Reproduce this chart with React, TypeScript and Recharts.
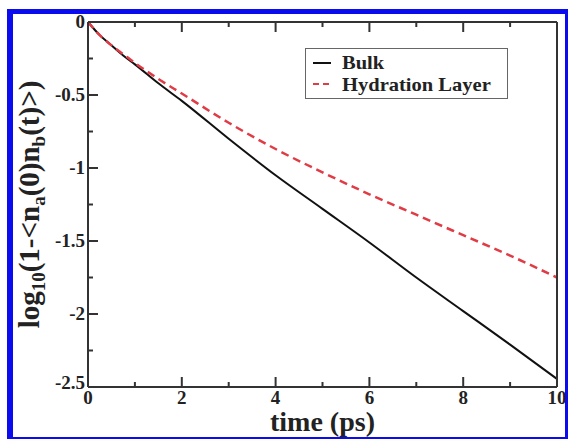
import React from "react";
import {
  LineChart,
  Line,
  XAxis,
  YAxis,
  Legend,
} from "recharts";

const times = [0, 0.25, 0.5, 0.75, 1, 1.5, 2, 3, 4, 5, 6, 7, 8, 9, 10];
const bulk = [0, -0.09, -0.16, -0.23, -0.29, -0.42, -0.54, -0.8, -1.05, -1.28, -1.51, -1.75, -1.98, -2.21, -2.445];
const hydration = [0, -0.09, -0.16, -0.22, -0.28, -0.39, -0.49, -0.69, -0.87, -1.03, -1.18, -1.32, -1.46, -1.6, -1.75];

const xTicks = [0, 1, 2, 3, 4, 5, 6, 7, 8, 9, 10];
const yTicks = [0, -0.25, -0.5, -0.75, -1, -1.25, -1.5, -1.75, -2, -2.25, -2.5];

const data = times.map((t, i) => ({ t, bulk: bulk[i], hydration: hydration[i] }));

const FONT = "Liberation Serif, Times New Roman, Times, serif";
const FRAME = "#333";
const RED = "#e03c46";
const BLUE = "#0b0bf0";

const isMajorX = (v: number) => v % 2 === 0;
const isMajorY = (v: number) => Math.abs(v * 2 - Math.round(v * 2)) < 1e-6;

const BottomTick = (props: any) => {
  const { x, y, payload } = props;
  const v = payload.value;
  const len = isMajorX(v) ? 10 : 5;
  return (
    <g>
      <line x1={x} x2={x} y1={y} y2={y - len} stroke={FRAME} strokeWidth={2} />
      {isMajorX(v) && (
        <text x={x} y={y + 17} textAnchor="middle" fontFamily={FONT} fontWeight="bold" fontSize={19} fill="#222">
          {v}
        </text>
      )}
    </g>
  );
};

const TopTick = (props: any) => {
  const { x, y, payload } = props;
  const len = isMajorX(payload.value) ? 10 : 5;
  return <line x1={x} x2={x} y1={y} y2={y + len} stroke={FRAME} strokeWidth={2} />;
};

const LeftTick = (props: any) => {
  const { x, y, payload } = props;
  const v = payload.value;
  const major = isMajorY(v);
  return (
    <g>
      <line x1={x} x2={x + (major ? 10 : 5)} y1={y} y2={y} stroke={FRAME} strokeWidth={2} />
      {major && (
        <text x={x - 3} y={v === -2.5 ? y + 2 : y + 6} textAnchor="end" fontFamily={FONT} fontWeight="bold" fontSize={19} fill="#222">
          {v}
        </text>
      )}
    </g>
  );
};

const RightTick = (props: any) => {
  const { x, y, payload } = props;
  const len = isMajorY(payload.value) ? 10 : 5;
  return <line x1={x} x2={x - len} y1={y} y2={y} stroke={FRAME} strokeWidth={2} />;
};

const XTitle = (props: any) => {
  const { viewBox } = props;
  const cx = viewBox.x + viewBox.width / 2;
  return (
    <text x={cx} y={431} textAnchor="middle" fontFamily={FONT} fontWeight="bold" fontSize={28} fill="#222">
      time (ps)
    </text>
  );
};

const YTitle = (props: any) => {
  const { viewBox } = props;
  const cy = viewBox.y + viewBox.height / 2;
  const cx = 39;
  const sub = { fontSize: 19 };
  return (
    <text
      x={cx}
      y={cy}
      transform={`rotate(-90 ${cx} ${cy})`}
      textAnchor="middle"
      fontFamily={FONT}
      fontWeight="bold"
      fontSize={29}
      fill="#222"
    >
      log
      <tspan dy={6} {...sub}>10</tspan>
      <tspan dy={-6}>(1-&lt;n</tspan>
      <tspan dy={6} {...sub}>a</tspan>
      <tspan dy={-6}>(0)n</tspan>
      <tspan dy={6} {...sub}>b</tspan>
      <tspan dy={-6}>(t)&gt;)</tspan>
    </text>
  );
};

const LegendBox = () => {
  const row = { display: "flex", alignItems: "center", height: 21.5 } as const;
  const label = {
    fontFamily: FONT,
    fontWeight: "bold" as const,
    fontSize: 19,
    lineHeight: "19px",
    color: "#222",
    marginLeft: 11,
    transform: "scaleX(1.08)",
    transformOrigin: "left center",
  };
  return (
    <div style={{ border: "1px solid #666", width: 203, height: 51, padding: "3px 0 0 7px", boxSizing: "border-box", background: "#fff" }}>
      <div style={row}>
        <svg width={18} height={10}>
          <line x1={0} x2={18} y1={5} y2={5} stroke="#111" strokeWidth={2} />
        </svg>
        <span style={label}>Bulk</span>
      </div>
      <div style={row}>
        <svg width={18} height={10}>
          <line x1={0} x2={18} y1={5} y2={5} stroke={RED} strokeWidth={2} strokeDasharray="6 4" />
        </svg>
        <span style={label}>Hydration Layer</span>
      </div>
    </div>
  );
};

export default function App() {
  return (
    <div style={{ position: "absolute", left: 0, top: 0, width: 568, height: 439, background: "#fff", overflow: "hidden" }}>
      <LineChart
        width={568}
        height={439}
        data={data}
        margin={{ top: 20, right: 9, bottom: 22, left: 28 }}
        style={{ position: "absolute", left: 0, top: 0 }}
      >
        <XAxis
          dataKey="t"
          type="number"
          domain={[0, 10]}
          ticks={xTicks}
          interval={0}
          tickSize={0}
          tickMargin={0}
          tickLine={false}
          tick={<BottomTick />}
          axisLine={{ stroke: FRAME, strokeWidth: 2 }}
          height={30}
          label={<XTitle />}
        />
        <XAxis
          xAxisId="top"
          orientation="top"
          dataKey="t"
          type="number"
          domain={[0, 10]}
          ticks={xTicks}
          interval={0}
          tickSize={0}
          tickMargin={0}
          tickLine={false}
          tick={<TopTick />}
          axisLine={{ stroke: FRAME, strokeWidth: 2 }}
          height={2}
        />
        <YAxis
          type="number"
          domain={[-2.5, 0]}
          ticks={yTicks}
          interval={0}
          tickSize={0}
          tickMargin={0}
          tickLine={false}
          tick={<LeftTick />}
          axisLine={{ stroke: FRAME, strokeWidth: 2 }}
          width={60}
          label={<YTitle />}
        />
        <YAxis
          yAxisId="right"
          orientation="right"
          type="number"
          domain={[-2.5, 0]}
          ticks={yTicks}
          interval={0}
          tickSize={0}
          tickMargin={0}
          tickLine={false}
          tick={<RightTick />}
          axisLine={{ stroke: FRAME, strokeWidth: 2 }}
          width={2}
        />
        <Legend
          layout="vertical"
          align="center"
          verticalAlign="middle"
          content={<LegendBox />}
          wrapperStyle={{ left: 305, top: 48, width: 203, height: 51 }}
        />
        <Line
          type="monotone"
          dataKey="bulk"
          name="Bulk"
          stroke="#111"
          strokeWidth={2}
          dot={false}
          isAnimationActive={false}
        />
        <Line
          type="monotone"
          dataKey="hydration"
          name="Hydration Layer"
          stroke={RED}
          strokeWidth={2.5}
          strokeDasharray="8 5"
          dot={false}
          isAnimationActive={false}
        />
      </LineChart>
      <div
        style={{
          position: "absolute",
          left: 7,
          top: 9,
          width: 561,
          height: 430,
          boxSizing: "border-box",
          borderLeft: `6px solid ${BLUE}`,
          borderTop: `5px solid ${BLUE}`,
          borderRight: `3px solid ${BLUE}`,
          borderBottom: `2px solid ${BLUE}`,
          pointerEvents: "none",
        }}
      />
    </div>
  );
}
